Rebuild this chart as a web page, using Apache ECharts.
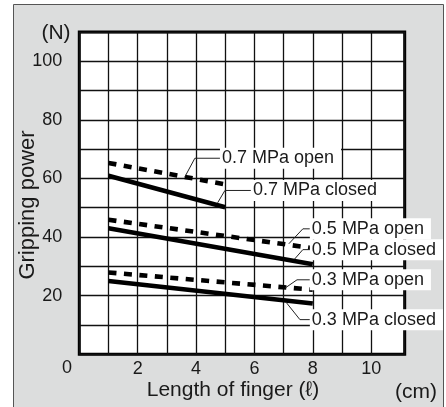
<!DOCTYPE html>
<html><head><meta charset="utf-8">
<script src="https://cdn.jsdelivr.net/npm/echarts@6/dist/echarts.min.js"></script>
<style>html,body{margin:0;padding:0;background:#fff}#c{width:446px;height:407px}</style>
</head><body><div id="c"></div>
<script>
// ---- data ----
const xs07 = [1, 5];
const open07 = [65.3, 58.0];
const closed07 = [60.9, 50.2];
const xsLong = [1, 8];
const open05 = [45.9, 36.2];
const closed05 = [43.0, 30.7];
const open03 = [27.9, 22.0];
const closed03 = [25.0, 17.3];
const xTickLabels = [2, 4, 6, 8, 10];
const yTickLabels = [20, 40, 60, 80, 100];
const labelNames = ['0.7 MPa open', '0.7 MPa closed', '0.5 MPa open', '0.5 MPa closed', '0.3 MPa open', '0.3 MPa closed'];
// leader lines (data units)
const lead07open = [[3.62, 60.6], [3.96, 66.9], [4.82, 66.9]];
const lead07closed = [[4.74, 51.7], [4.99, 55.9], [5.88, 55.9]];
const lead05open = [[7.18, 37.7], [7.66, 42.8], [7.90, 42.8]];
const lead05closed = [[7.37, 32.4], [7.66, 35.7], [7.90, 35.7]];
const lead03open = [[7.04, 22.5], [7.46, 25.4], [7.90, 25.4]];
const lead03closed = [[7.08, 17.8], [7.56, 11.8], [7.90, 11.8]];

const FONT = 'Liberation Sans, Arial, sans-serif';
const TXT = '#1a1a1a';
const zip = (a, b) => a.map((v, i) => [v, b[i]]);

function dataLine(x, y, dashed) {
  return {
    type: 'line', data: zip(x, y), symbol: 'none', silent: true, z: 3,
    lineStyle: { color: '#000', width: 4.6, type: dashed ? [8, 7.5] : 'solid', cap: 'butt' }
  };
}
function leader(pts, name) {
  return {
    type: 'line', name: name, data: pts, symbol: 'none', silent: true, z: 4, clip: false,
    lineStyle: { color: '#222', width: 1 },
    endLabel: {
      show: true, distance: 0, formatter: name,
      backgroundColor: '#fff', padding: [2, 7, 1, 2], fontSize: 18, lineHeight: 18,
      color: TXT, fontFamily: FONT
    }
  };
}

const splitColors = [];
for (let i = 0; i <= 12; i++) splitColors.push(i === 11 ? 'rgba(0,0,0,0)' : '#111');

const chart = echarts.init(document.getElementById('c'), null, { renderer: 'canvas' });
chart.setOption({
  animation: false,
  backgroundColor: '#fff',
  graphic: [
    { type: 'rect', z: -10, shape: { x: 13.5, y: 4.5, width: 430, height: 410 },
      style: { fill: '#dcdddd', stroke: '#555', lineWidth: 1 } },
    { type: 'text', z: 10, style: { text: '(N)', x: 56, y: 33, align: 'center', verticalAlign: 'middle', fontSize: 21, fontFamily: FONT, fill: TXT } },
    { type: 'text', z: 10, style: { text: '0', x: 67, y: 368, align: 'center', verticalAlign: 'middle', fontSize: 18, fontFamily: FONT, fill: TXT } },
    { type: 'text', z: 10, style: { text: 'Length of finger (ℓ)', x: 233, y: 390, align: 'center', verticalAlign: 'middle', fontSize: 21, fontFamily: FONT, fill: TXT } },
    { type: 'text', z: 10, style: { text: '(cm)', x: 416, y: 392, align: 'center', verticalAlign: 'middle', fontSize: 21, fontFamily: FONT, fill: TXT } },
    { type: 'text', z: 10, x: 28, y: 205, rotation: Math.PI / 2, style: { text: 'Gripping power', x: 0, y: 0, align: 'center', verticalAlign: 'middle', fontSize: 22, fontFamily: FONT, fill: TXT } }
  ],
  grid: { left: 79.3, right: 41.3, top: 32, bottom: 52.8, show: true, backgroundColor: '#fff', borderColor: '#000', borderWidth: 3, outerBoundsMode: 'none', containLabel: false },
  xAxis: {
    type: 'value', min: 0, max: 11.15, interval: 1,
    axisLine: { show: false }, axisTick: { show: false },
    axisLabel: { fontSize: 18, fontFamily: FONT, color: TXT, margin: 6,
      formatter: v => xTickLabels.indexOf(v) >= 0 ? String(v) : '' },
    splitLine: { show: true, lineStyle: { color: splitColors, width: 1.3 } }
  },
  yAxis: {
    type: 'value', min: 0, max: 110, interval: 10,
    axisLine: { show: false }, axisTick: { show: false },
    axisLabel: { fontSize: 18, fontFamily: FONT, color: TXT, margin: 17,
      formatter: v => yTickLabels.indexOf(v) >= 0 ? String(v) : '' },
    splitLine: { show: true, lineStyle: { color: '#111', width: 1.3 } }
  },
  series: [
    dataLine(xs07, open07, true),
    dataLine(xs07, closed07, false),
    dataLine(xsLong, open05, true),
    dataLine(xsLong, closed05, false),
    dataLine(xsLong, open03, true),
    dataLine(xsLong, closed03, false),
    leader(lead07open, labelNames[0]),
    leader(lead07closed, labelNames[1]),
    leader(lead05open, labelNames[2]),
    leader(lead05closed, labelNames[3]),
    leader(lead03open, labelNames[4]),
    leader(lead03closed, labelNames[5])
  ]
});
</script></body></html>
